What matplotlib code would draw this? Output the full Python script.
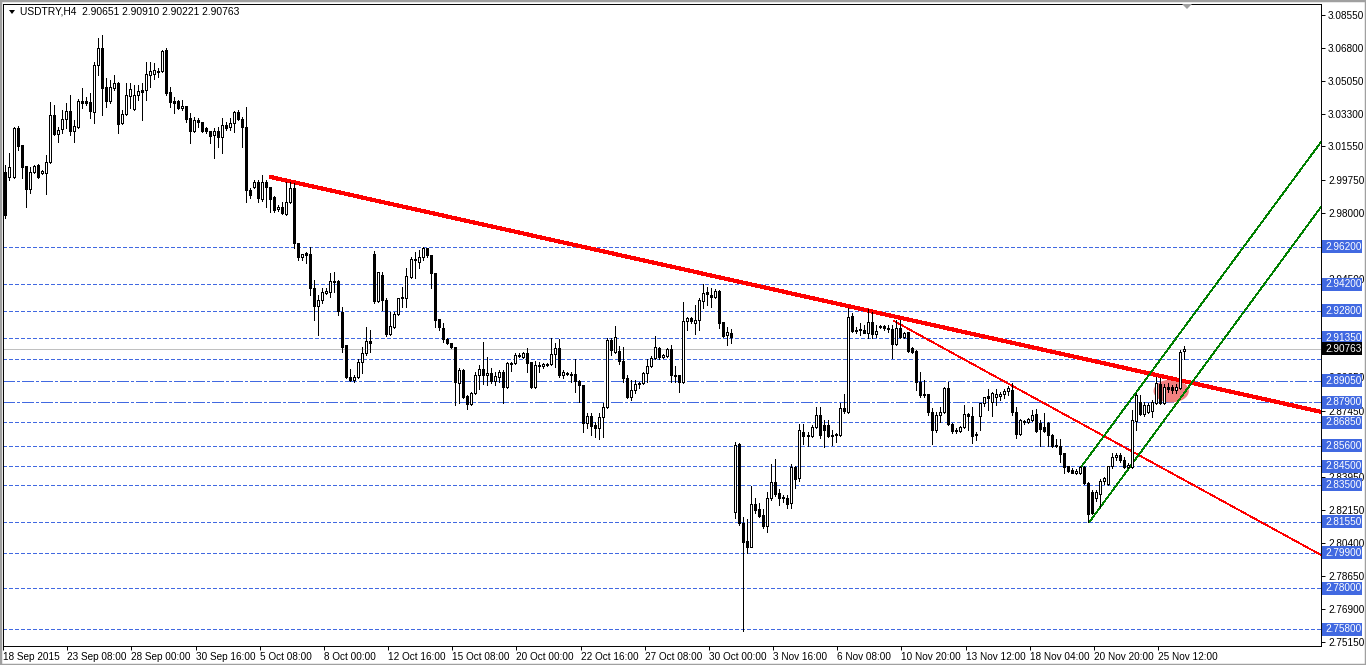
import matplotlib
matplotlib.use("Agg")
import matplotlib.pyplot as plt
import matplotlib.transforms as mtransforms
import numpy as np
from matplotlib.patches import Ellipse, Polygon, Rectangle

plt.rcParams["font.family"] = ["Liberation Sans", "DejaVu Sans"]

# ---- USDTRY H4 candles (bar index 0 = 18 Sep 2015) ----
opens = [
    3.0018, 2.9992, 2.9992, 3.0253, 3.0162, 3.0050, 2.9928, 3.0018, 3.0056, 3.0013,
    3.0013, 3.0072, 3.0322, 3.0221, 3.0247, 3.0301, 3.0343, 3.0237, 3.0258, 3.0397,
    3.0397, 3.0391, 3.0338, 3.0589, 3.0679, 3.0471, 3.0397, 3.0466, 3.0493, 3.0279,
    3.0327, 3.0423, 3.0354, 3.0429, 3.0455, 3.0455, 3.0535, 3.0541, 3.0557, 3.0557,
    3.0669, 3.0445, 3.0397, 3.0397, 3.0359, 3.0370, 3.0306, 3.0237, 3.0295, 3.0285,
    3.0253, 3.0237, 3.0215, 3.0237, 3.0205, 3.0269, 3.0258, 3.0279, 3.0338, 3.0301,
    3.0258, 2.9922, 2.9938, 2.9965, 2.9874, 2.9965, 2.9938, 2.9885, 2.9821, 2.9832,
    2.9794, 2.9858, 2.9933, 2.9640, 2.9565, 2.9587, 2.9581, 2.9400, 2.9304, 2.9336,
    2.9373, 2.9379, 2.9437, 2.9437, 2.9272, 2.9096, 2.8926, 2.8910, 2.8926, 2.9006,
    2.9053, 2.9117, 2.9581, 2.9331, 2.9469, 2.9336, 2.9155, 2.9192, 2.9261, 2.9347,
    2.9347, 2.9459, 2.9555, 2.9539, 2.9565, 2.9613, 2.9576, 2.9480, 2.9235, 2.9187,
    2.9128, 2.9107, 2.9085, 2.8894, 2.8963, 2.8824, 2.8782, 2.8840, 2.8936, 2.8968,
    2.8936, 2.8947, 2.8904, 2.8926, 2.8952, 2.8872, 2.8995, 2.9000, 2.9043, 2.9032,
    2.9053, 2.9006, 2.8872, 2.8990, 2.8984, 2.8995, 2.8995, 2.9048, 2.9080, 2.8936,
    2.8947, 2.8942, 2.8942, 2.8904, 2.8883, 2.8680, 2.8718, 2.8670, 2.8654, 2.8712,
    2.8766, 2.9123, 2.9059, 2.9064, 2.9011, 2.8920, 2.8819, 2.8856, 2.8888, 2.8894,
    2.8947, 2.8984, 2.9027, 2.9080, 2.9032, 2.9037, 2.9075, 2.8936, 2.8936, 2.8899,
    2.9224, 2.9240, 2.9213, 2.9229, 2.9331, 2.9379, 2.9363, 2.9352, 2.9384, 2.9219,
    2.9149, 2.9160, 2.8206, 2.8568, 2.8147, 2.8051, 2.8020, 2.8249, 2.8222, 2.8190,
    2.8131, 2.8281, 2.8366, 2.8307, 2.8286, 2.8281, 2.8254, 2.8446, 2.8387, 2.8632,
    2.8611, 2.8611, 2.8659, 2.8723, 2.8670, 2.8670, 2.8616, 2.8616, 2.8616, 2.8760,
    2.8739, 2.9251, 2.9171, 2.9176, 2.9176, 2.9160, 2.9219, 2.9155, 2.9192, 2.9197,
    2.9187, 2.9181, 2.9101, 2.9187, 2.9139, 2.9165, 2.9080, 2.9064, 2.8899, 2.8830,
    2.8835, 2.8739, 2.8643, 2.8723, 2.8739, 2.8867, 2.8675, 2.8643, 2.8638, 2.8659,
    2.8728, 2.8718, 2.8622, 2.8718, 2.8787, 2.8824, 2.8792, 2.8819, 2.8824, 2.8835,
    2.8851, 2.8856, 2.8739, 2.8622, 2.8691, 2.8686, 2.8697, 2.8728, 2.8680, 2.8659,
    2.8680, 2.8616, 2.8558, 2.8558, 2.8520, 2.8451, 2.8430, 2.8414, 2.8414, 2.8446,
    2.8361, 2.8313, 2.8281, 2.8302, 2.8371, 2.8355, 2.8451, 2.8499, 2.8510, 2.8483,
    2.8446, 2.8446, 2.8691, 2.8792, 2.8728, 2.8739, 2.8744, 2.8787, 2.8888, 2.8787,
    2.8872, 2.8872, 2.8856, 2.8867, 2.90651,
]
highs = [
    3.0056, 3.0120, 3.0258, 3.0263, 3.0162, 3.0050, 3.0045, 3.0056, 3.0061, 3.0029,
    3.0109, 3.0391, 3.0375, 3.0258, 3.0349, 3.0386, 3.0429, 3.0295, 3.0407, 3.0466,
    3.0418, 3.0439, 3.0605, 3.0732, 3.0748, 3.0519, 3.0509, 3.0535, 3.0498, 3.0349,
    3.0493, 3.0493, 3.0482, 3.0482, 3.0493, 3.0605, 3.0605, 3.0599, 3.0573, 3.0669,
    3.0679, 3.0471, 3.0418, 3.0402, 3.0402, 3.0370, 3.0333, 3.0311, 3.0306, 3.0285,
    3.0258, 3.0237, 3.0253, 3.0258, 3.0306, 3.0285, 3.0306, 3.0343, 3.0349, 3.0311,
    3.0365, 2.9933, 2.9976, 2.9976, 3.0002, 2.9976, 2.9938, 2.9890, 2.9842, 2.9858,
    2.9965, 2.9965, 2.9960, 2.9640, 2.9581, 2.9592, 2.9619, 2.9443, 2.9363, 2.9400,
    2.9400, 2.9480, 2.9485, 2.9443, 2.9299, 2.9096, 2.8968, 2.8936, 2.9022, 2.9085,
    2.9192, 2.9176, 2.9597, 2.9485, 2.9485, 2.9347, 2.9272, 2.9272, 2.9347, 2.9405,
    2.9507, 2.9565, 2.9592, 2.9603, 2.9619, 2.9613, 2.9576, 2.9480, 2.9235, 2.9213,
    2.9133, 2.9107, 2.9085, 2.8974, 2.8968, 2.8830, 2.8846, 2.8952, 2.8990, 2.9112,
    2.9032, 2.8974, 2.8952, 2.8963, 2.8963, 2.9006, 2.9006, 2.9053, 2.9053, 2.9059,
    2.9080, 2.9006, 2.9011, 2.9006, 2.9000, 2.9000, 2.9133, 2.9107, 2.9128, 2.8963,
    2.8952, 2.8952, 2.9022, 2.8910, 2.8883, 2.8734, 2.8734, 2.8686, 2.8734, 2.8787,
    2.9133, 2.9133, 2.9197, 2.9091, 2.9085, 2.8936, 2.8910, 2.8910, 2.8899, 2.8952,
    2.9022, 2.9037, 2.9144, 2.9085, 2.9048, 2.9080, 2.9096, 2.8984, 2.8936, 2.9325,
    2.9245, 2.9245, 2.9309, 2.9347, 2.9421, 2.9405, 2.9400, 2.9395, 2.9389, 2.9219,
    2.9192, 2.9181, 2.8579, 2.8574, 2.8179, 2.8169, 2.8345, 2.8281, 2.8254, 2.8222,
    2.8313, 2.8462, 2.8488, 2.8329, 2.8297, 2.8297, 2.8462, 2.8451, 2.8675, 2.8675,
    2.8632, 2.8670, 2.8766, 2.8766, 2.8697, 2.8697, 2.8643, 2.8627, 2.8787, 2.8835,
    2.9293, 2.9267, 2.9192, 2.9213, 2.9203, 2.9288, 2.9272, 2.9203, 2.9203, 2.9203,
    2.9203, 2.9203, 2.9229, 2.9229, 2.9165, 2.9165, 2.9085, 2.9070, 2.8952, 2.8910,
    2.8835, 2.8760, 2.8739, 2.8766, 2.8872, 2.8899, 2.8680, 2.8654, 2.8664, 2.8776,
    2.8734, 2.8766, 2.8632, 2.8787, 2.8819, 2.8862, 2.8846, 2.8862, 2.8846, 2.8862,
    2.8878, 2.8894, 2.8766, 2.8702, 2.8697, 2.8707, 2.8750, 2.8755, 2.8697, 2.8734,
    2.8686, 2.8622, 2.8595, 2.8595, 2.8520, 2.8451, 2.8441, 2.8436, 2.8451, 2.8451,
    2.8366, 2.8323, 2.8323, 2.8382, 2.8393, 2.8451, 2.8520, 2.8520, 2.8520, 2.8499,
    2.8467, 2.8750, 2.8840, 2.8830, 2.8792, 2.8787, 2.8803, 2.8926, 2.8920, 2.8888,
    2.8894, 2.8883, 2.8888, 2.9070, 2.90910,
]
lows = [
    2.9773, 2.9976, 2.9986, 3.0136, 2.9986, 2.9832, 2.9906, 3.0013, 2.9986, 3.0008,
    2.9901, 3.0066, 3.0215, 3.0178, 3.0226, 3.0253, 3.0215, 3.0178, 3.0253, 3.0359,
    3.0375, 3.0306, 3.0279, 3.0535, 3.0322, 3.0365, 3.0386, 3.0455, 3.0226, 3.0274,
    3.0322, 3.0359, 3.0349, 3.0402, 3.0295, 3.0402, 3.0471, 3.0514, 3.0525, 3.0551,
    3.0429, 3.0365, 3.0333, 3.0354, 3.0349, 3.0285, 3.0173, 3.0231, 3.0258, 3.0231,
    3.0226, 3.0173, 3.0093, 3.0151, 3.0120, 3.0242, 3.0242, 3.0231, 3.0295, 3.0151,
    2.9858, 2.9880, 2.9933, 2.9858, 2.9864, 2.9832, 2.9805, 2.9805, 2.9810, 2.9794,
    2.9789, 2.9853, 2.9613, 2.9549, 2.9549, 2.9533, 2.9363, 2.9229, 2.9149, 2.9320,
    2.9368, 2.9352, 2.9379, 2.9256, 2.9059, 2.8920, 2.8904, 2.8899, 2.8920, 2.8947,
    2.9043, 2.9059, 2.9320, 2.9325, 2.9283, 2.9144, 2.9149, 2.9187, 2.9256, 2.9299,
    2.9299, 2.9453, 2.9453, 2.9507, 2.9549, 2.9565, 2.9400, 2.9192, 2.9176, 2.9112,
    2.9101, 2.9080, 2.8776, 2.8787, 2.8814, 2.8755, 2.8776, 2.8835, 2.8862, 2.8888,
    2.8883, 2.8894, 2.8883, 2.8899, 2.8787, 2.8867, 2.8958, 2.8995, 2.9032, 2.9027,
    2.8952, 2.8867, 2.8867, 2.8952, 2.8974, 2.8984, 2.8990, 2.8979, 2.8926, 2.8920,
    2.8936, 2.8899, 2.8846, 2.8792, 2.8632, 2.8654, 2.8616, 2.8606, 2.8595, 2.8606,
    2.8760, 2.9043, 2.9053, 2.8995, 2.8899, 2.8814, 2.8803, 2.8840, 2.8867, 2.8888,
    2.8899, 2.8979, 2.9022, 2.9022, 2.9027, 2.9032, 2.8899, 2.8899, 2.8846, 2.8894,
    2.9176, 2.9213, 2.9155, 2.9176, 2.9293, 2.9309, 2.9299, 2.9347, 2.9187, 2.9139,
    2.9096, 2.9107, 2.8174, 2.8137, 2.7572, 2.7988, 2.8020, 2.8201, 2.8179, 2.8121,
    2.8099, 2.8270, 2.8291, 2.8243, 2.8259, 2.8227, 2.8227, 2.8334, 2.8371, 2.8568,
    2.8558, 2.8606, 2.8654, 2.8600, 2.8552, 2.8606, 2.8563, 2.8579, 2.8611, 2.8734,
    2.8734, 2.9165, 2.9160, 2.9149, 2.9160, 2.9133, 2.9133, 2.9139, 2.9187, 2.9176,
    2.9165, 2.9027, 2.9096, 2.9133, 2.9133, 2.9059, 2.9053, 2.8856, 2.8819, 2.8819,
    2.8723, 2.8568, 2.8632, 2.8686, 2.8734, 2.8670, 2.8627, 2.8627, 2.8632, 2.8654,
    2.8643, 2.8574, 2.8590, 2.8643, 2.8771, 2.8750, 2.8718, 2.8776, 2.8803, 2.8814,
    2.8830, 2.8723, 2.8600, 2.8616, 2.8675, 2.8680, 2.8691, 2.8632, 2.8558, 2.8632,
    2.8558, 2.8552, 2.8552, 2.8473, 2.8414, 2.8420, 2.8414, 2.8409, 2.8409, 2.8355,
    2.8155, 2.8195, 2.8265, 2.8233, 2.8355, 2.8350, 2.8441, 2.8483, 2.8473, 2.8441,
    2.8441, 2.8441, 2.8643, 2.8723, 2.8718, 2.8734, 2.8712, 2.8782, 2.8782, 2.8782,
    2.8846, 2.8840, 2.8840, 2.8862, 2.90221,
]
closes = [
    2.9789, 3.0045, 3.0253, 3.0157, 3.0045, 2.9928, 3.0018, 3.0050, 2.9992, 3.0024,
    3.0072, 3.0322, 3.0221, 3.0242, 3.0301, 3.0343, 3.0237, 3.0263, 3.0397, 3.0386,
    3.0386, 3.0343, 3.0589, 3.0679, 3.0466, 3.0397, 3.0471, 3.0493, 3.0274, 3.0327,
    3.0429, 3.0461, 3.0429, 3.0450, 3.0445, 3.0541, 3.0557, 3.0562, 3.0551, 3.0663,
    3.0439, 3.0391, 3.0386, 3.0359, 3.0370, 3.0301, 3.0237, 3.0295, 3.0285, 3.0237,
    3.0237, 3.0210, 3.0237, 3.0205, 3.0269, 3.0253, 3.0279, 3.0338, 3.0301, 3.0258,
    2.9922, 2.9896, 2.9965, 2.9880, 2.9965, 2.9938, 2.9874, 2.9816, 2.9832, 2.9800,
    2.9858, 2.9933, 2.9640, 2.9565, 2.9581, 2.9576, 2.9400, 2.9304, 2.9336, 2.9379,
    2.9384, 2.9437, 2.9432, 2.9277, 2.9085, 2.8926, 2.8910, 2.8926, 2.9006, 2.9053,
    2.9117, 2.9107, 2.9331, 2.9485, 2.9336, 2.9155, 2.9197, 2.9261, 2.9347, 2.9352,
    2.9464, 2.9555, 2.9549, 2.9565, 2.9613, 2.9576, 2.9480, 2.9229, 2.9192, 2.9128,
    2.9107, 2.9085, 2.8899, 2.8963, 2.8819, 2.8782, 2.8840, 2.8936, 2.8968, 2.8936,
    2.8947, 2.8904, 2.8931, 2.8952, 2.8872, 2.9000, 2.9000, 2.9043, 2.9037, 2.9053,
    2.9000, 2.8872, 2.8990, 2.8984, 2.8995, 2.8990, 2.9048, 2.9080, 2.8936, 2.8952,
    2.8942, 2.8936, 2.8904, 2.8883, 2.8680, 2.8718, 2.8664, 2.8654, 2.8712, 2.8766,
    2.9123, 2.9070, 2.9139, 2.9011, 2.8920, 2.8819, 2.8856, 2.8888, 2.8894, 2.8947,
    2.8984, 2.9027, 2.9085, 2.9032, 2.9043, 2.9075, 2.8936, 2.8931, 2.8899, 2.9224,
    2.9240, 2.9224, 2.9229, 2.9336, 2.9373, 2.9368, 2.9352, 2.9384, 2.9213, 2.9144,
    2.9165, 2.9139, 2.8563, 2.8147, 2.8046, 2.8020, 2.8249, 2.8217, 2.8185, 2.8131,
    2.8281, 2.8366, 2.8302, 2.8281, 2.8281, 2.8249, 2.8446, 2.8382, 2.8643, 2.8611,
    2.8616, 2.8659, 2.8723, 2.8616, 2.8643, 2.8611, 2.8611, 2.8622, 2.8760, 2.8744,
    2.9245, 2.9171, 2.9176, 2.9181, 2.9160, 2.9219, 2.9155, 2.9171, 2.9197, 2.9187,
    2.9181, 2.9101, 2.9187, 2.9139, 2.9160, 2.9064, 2.9059, 2.8899, 2.8830, 2.8835,
    2.8739, 2.8643, 2.8723, 2.8739, 2.8867, 2.8675, 2.8638, 2.8638, 2.8659, 2.8728,
    2.8718, 2.8611, 2.8616, 2.8787, 2.8819, 2.8814, 2.8840, 2.8835, 2.8835, 2.8851,
    2.8867, 2.8739, 2.8622, 2.8697, 2.8686, 2.8702, 2.8723, 2.8638, 2.8648, 2.8638,
    2.8616, 2.8558, 2.8563, 2.8515, 2.8446, 2.8425, 2.8414, 2.8425, 2.8446, 2.8361,
    2.8195, 2.8201, 2.8313, 2.8371, 2.8387, 2.8451, 2.8499, 2.8510, 2.8483, 2.8446,
    2.8457, 2.8697, 2.8830, 2.8728, 2.8776, 2.8776, 2.8792, 2.8894, 2.8787, 2.8872,
    2.8862, 2.8856, 2.8872, 2.9059, 2.90763,
]

x_labels = ["18 Sep 2015", "23 Sep 08:00", "28 Sep 00:00", "30 Sep 16:00", "5 Oct 08:00",
            "8 Oct 00:00", "12 Oct 16:00", "15 Oct 08:00", "20 Oct 00:00", "22 Oct 16:00",
            "27 Oct 08:00", "30 Oct 00:00", "3 Nov 16:00", "6 Nov 08:00", "10 Nov 20:00",
            "13 Nov 12:00", "18 Nov 04:00", "20 Nov 20:00", "25 Nov 12:00"]
# scale marks that stay visible next to the price tags
y_ticks = [3.0855, 3.068, 3.0505, 3.033, 3.0155, 2.9975, 2.98, 2.945,
           2.8925, 2.8745, 2.8395, 2.8215, 2.804, 2.7865, 2.769, 2.7515]

# horizontal levels drawn on the chart
dash_levels = [2.962, 2.942, 2.928, 2.9135, 2.8685, 2.856, 2.845, 2.835, 2.8155, 2.799, 2.780, 2.758]
dashdot_levels = [2.8905, 2.879]
plain_levels = [2.902]  # no price tag
last_price = 2.90763

# trend lines: (bar, price) end points
red_main = [(65.8, 2.9993), (328.05, 2.8740)]
red_thin = [(221.4, 2.9226), (328.05, 2.7977)]
green_up = [(268.4, 2.8451), (328.05, 3.0178)]
green_lo = [(270.3, 2.8153), (328.05, 2.9832)]
blob = (290.7, 2.8851, 8.8, 0.0122)

W, H = 1366, 665
BLUE = "#4169E1"
LW = 0.7
fig = plt.figure(figsize=(W / 100, H / 100), dpi=100)
fig.patch.set_facecolor("white")
ax = fig.add_axes([3 / W, 19 / H, 1318 / W, 642 / H])
ax.set_facecolor("white")

idx = np.arange(len(closes))
o = np.array(opens)
c = np.array(closes)
bull = c >= o

ax.add_patch(Ellipse(blob[:2], blob[2], blob[3], fc="#F08080", ec="none", zorder=1.5))

for lv in dash_levels + plain_levels:
    ax.axhline(lv, color=BLUE, lw=LW, ls=(0, (4, 3)), zorder=1, antialiased=False)
for lv in dashdot_levels:
    ax.axhline(lv, color=BLUE, lw=LW, ls=(0, (12, 3, 3, 3)), zorder=1, antialiased=False)
ax.axhline(last_price, color="#C0C0C0", lw=LW, zorder=1, antialiased=False)

for pts, col, lw in [(red_main, "red", 2.2), (red_thin, "red", 0.5),
                     (green_up, "green", 0.5), (green_lo, "green", 0.5)]:
    ax.plot([p[0] for p in pts], [p[1] for p in pts], color=col, lw=lw, zorder=2,
            solid_capstyle="butt", antialiased=False)

ax.vlines(idx, lows, highs, color="black", lw=LW, zorder=3, antialiased=False)
ax.bar(idx, np.abs(c - o), width=0.5, bottom=np.minimum(o, c),
       color=np.where(bull, "white", "black"), edgecolor="black", linewidth=LW,
       zorder=4, antialiased=False)

ax.set_xlim(-0.62, 328.05)
ax.set_ylim(2.74918, 3.09137)

ax.yaxis.tick_right()
ax.set_yticks(y_ticks)
ax.set_yticklabels([f"{v:.5f}" for v in y_ticks])
ax.tick_params(axis="y", length=3, width=LW, pad=2, labelsize=7.2)
ax.set_xticks(np.arange(0, len(closes), 16)[:len(x_labels)] - 0.6)
ax.set_xticklabels(x_labels, ha="left")
ax.tick_params(axis="x", length=3, width=LW, pad=1.5, labelsize=7.2)
for s in ax.spines.values():
    s.set_linewidth(LW)

# price tags on the right scale
blend = mtransforms.blended_transform_factory(ax.transAxes, ax.transData)
def tag(price, fc):
    ax.add_patch(Rectangle((1.00076, price - 0.00346), 0.0304, 0.00693, transform=blend,
                           fc=fc, ec="none", clip_on=False, zorder=6))
    ax.text(1.0035, price, f"{price:.5f}", transform=blend, color="white", fontsize=7.2,
            va="center", ha="left", clip_on=False, zorder=7)

for lv in dash_levels + dashdot_levels:
    tag(lv, BLUE)
tag(last_price, "black")

fig.text(20 / W, 1 - 12 / H, "USDTRY,H4  2.90651 2.90910 2.90221 2.90763",
         fontsize=7.4, va="center", ha="left")
fig.patches.append(Polygon([(9 / W, 1 - 10 / H), (15 / W, 1 - 10 / H), (12 / W, 1 - 14 / H)],
                           closed=True, fc="black", ec="none", transform=fig.transFigure))
fig.patches.append(Polygon([(1182 / W, 1 - 4 / H), (1192 / W, 1 - 4 / H), (1187 / W, 1 - 9 / H)],
                           closed=True, fc="#A0A0A0", ec="none", transform=fig.transFigure))
fig.patches.append(Rectangle((0, 0), 1, 1, fill=False, ec="#A0A0A0", lw=2.5,
                             transform=fig.transFigure))

fig.savefig("out.png", dpi=100)
